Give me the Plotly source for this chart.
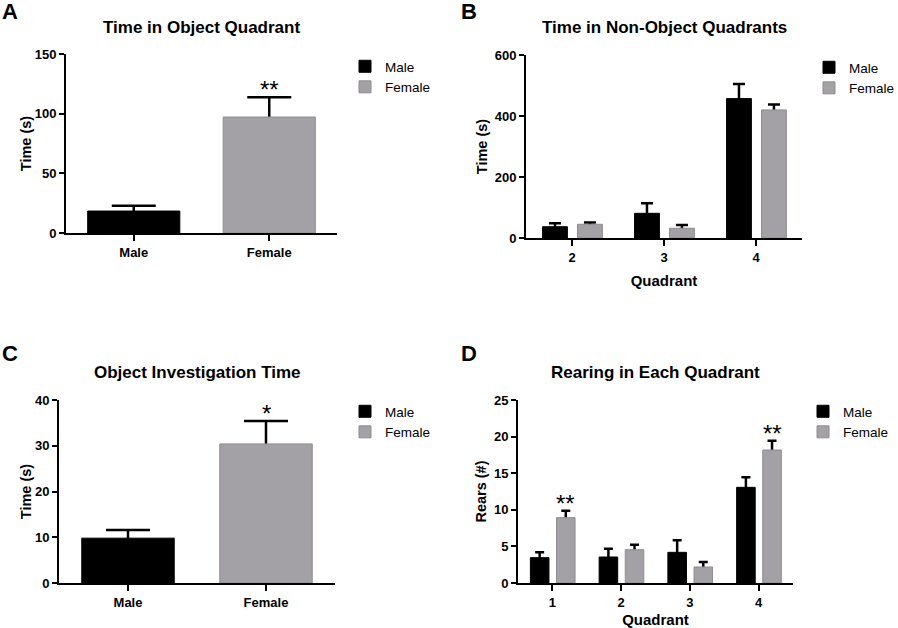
import plotly.graph_objects as go

# ---------------- data ----------------
sexes = ["Male", "Female"]

# Panel A: Time in Object Quadrant
a_cats = ["Male", "Female"]
a_mean = [18.4, 97.2]
a_sem = [4.5, 16.5]
a_stars = ["", "**"]

# Panel B: Time in Non-Object Quadrants
b_cats = ["2", "3", "4"]
b_male = [37, 81, 457]
b_male_sem = [11, 33, 48]
b_female = [45, 32, 420]
b_female_sem = [6, 11, 18]

# Panel C: Object Investigation Time
c_cats = ["Male", "Female"]
c_mean = [9.8, 30.4]
c_sem = [1.8, 5.0]
c_stars = ["", "*"]

# Panel D: Rearing in Each Quadrant
d_cats = ["1", "2", "3", "4"]
d_male = [3.46, 3.55, 4.19, 13.07]
d_male_sem = [0.73, 1.14, 1.64, 1.37]
d_female = [8.93, 4.55, 2.19, 18.17]
d_female_sem = [0.95, 0.68, 0.68, 1.27]
d_female_stars = ["**", "", "", "**"]

# ---------------- style ----------------
W, H = 898, 628
MALE_C = "#000000"
FEM_C = "#A3A1A6"
FEM_LINE = "#8E8C91"
FAM = "Liberation Sans, Arial, sans-serif"


def px_x(v):
    return v / W


def px_y(v):
    return 1 - v / H


fig = go.Figure()


def add_bars(x, y, sem, name, legend, color, line, width, offset, cap, xa, ya):
    # error bars first (on a transparent twin), then the opaque bars on top so
    # only the upper half of each error bar shows, as in the reference
    fig.add_trace(go.Bar(x=x, y=y, showlegend=False, hoverinfo="skip",
                         marker=dict(color="rgba(0,0,0,0)", line=dict(width=0)),
                         width=width, offset=offset,
                         error_y=dict(type="data", array=sem, color="black",
                                      thickness=2.5, width=cap),
                         xaxis=xa, yaxis=ya))
    fig.add_trace(go.Bar(x=x, y=y, name=name, legend=legend,
                         marker=dict(color=color, line=dict(color=line, width=1)),
                         width=width, offset=offset, xaxis=xa, yaxis=ya))


# Panel A
add_bars([a_cats[0]], [a_mean[0]], [a_sem[0]], "Male", "legend", MALE_C, MALE_C, 0.68, -0.34, 22, "x", "y")
add_bars([a_cats[1]], [a_mean[1]], [a_sem[1]], "Female", "legend", FEM_C, FEM_LINE, 0.68, -0.34, 22, "x", "y")
# Panel B
add_bars(b_cats, b_male, b_male_sem, "Male", "legend2", MALE_C, MALE_C, 0.27, -0.32, 6, "x2", "y2")
add_bars(b_cats, b_female, b_female_sem, "Female", "legend2", FEM_C, FEM_LINE, 0.27, 0.06, 6, "x2", "y2")
# Panel C
add_bars([c_cats[0]], [c_mean[0]], [c_sem[0]], "Male", "legend3", MALE_C, MALE_C, 0.67, -0.335, 22, "x3", "y3")
add_bars([c_cats[1]], [c_mean[1]], [c_sem[1]], "Female", "legend3", FEM_C, FEM_LINE, 0.67, -0.335, 22, "x3", "y3")
# Panel D
add_bars(d_cats, d_male, d_male_sem, "Male", "legend4", MALE_C, MALE_C, 0.27, -0.32, 4.5, "x4", "y4")
add_bars(d_cats, d_female, d_female_sem, "Female", "legend4", FEM_C, FEM_LINE, 0.27, 0.06, 4.5, "x4", "y4")

# ---------------- axes ----------------
tickfont = dict(family=FAM, size=13, color="black", weight="bold")
titlefont = dict(family=FAM, size=14.5, color="black", weight="bold")


def xax(domain, cats, anchor, title=None):
    d = dict(domain=domain, anchor=anchor, type="category", categoryorder="array",
             categoryarray=cats, range=[-0.5, len(cats) - 0.5], automargin=False,
             showline=True, linecolor="black", linewidth=2, ticks="outside",
             ticklen=6, tickwidth=2, tickcolor="black", tickfont=tickfont,
             showgrid=False, zeroline=False, fixedrange=True)
    if title:
        d["title"] = dict(text=title, font=dict(family=FAM, size=15, color="black", weight="bold"),
                          standoff=12)
    return d


def yax(domain, rng, dtick, anchor, title, standoff):
    return dict(domain=domain, anchor=anchor, range=rng, dtick=dtick, tick0=0, automargin=False,
                showline=True, linecolor="black", linewidth=2, ticks="outside",
                ticklen=5, tickwidth=2, tickcolor="black", tickfont=tickfont,
                showgrid=False, zeroline=False, fixedrange=True,
                title=dict(text=title, font=titlefont, standoff=standoff))


layout = dict(
    width=W, height=H, margin=dict(l=0, r=0, t=0, b=0, autoexpand=False),
    paper_bgcolor="white", plot_bgcolor="white", barmode="overlay",
    font=dict(family=FAM, color="black"),
    xaxis=xax([px_x(66), px_x(337)], a_cats, "y"),
    yaxis=yax([px_y(233), px_y(54)], [0, 150], 50, "x", "Time (s)", 0),
    xaxis2=xax([px_x(526), px_x(802)], b_cats, "y2", "Quadrant"),
    yaxis2=yax([px_y(238), px_y(55)], [0, 600], 200, "x2", "Time (s)", 4),
    xaxis3=xax([px_x(59), px_x(335)], c_cats, "y3"),
    yaxis3=yax([px_y(583), px_y(400)], [0, 40], 10, "x3", "Time (s)", 0),
    xaxis4=xax([px_x(518), px_x(793)], d_cats, "y4", "Quadrant"),
    yaxis4=yax([px_y(583), px_y(400)], [0, 25], 5, "x4", "Rears (#)", 4),
)

legfont = dict(family=FAM, size=13.5, color="black")


def leg(x_text, y_first):
    return dict(x=px_x(x_text - 40), y=px_y(y_first - 16), xanchor="left", yanchor="top",
                font=legfont, bgcolor="rgba(0,0,0,0)", tracegroupgap=0)


layout["legend"] = leg(385, 67)
layout["legend2"] = leg(849, 68)
layout["legend3"] = leg(385, 412)
layout["legend4"] = leg(843, 412)

fig.update_layout(**layout)

# ---------------- titles / panel letters ----------------
annots = []
titles = [("Time in Object Quadrant", 201.5, 27), ("Time in Non-Object Quadrants", 664, 27),
          ("Object Investigation Time", 197, 372), ("Rearing in Each Quadrant", 655.5, 372)]
for t, x, y in titles:
    annots.append(dict(text=t, x=px_x(x), y=px_y(y), xref="paper", yref="paper",
                       xanchor="center", yanchor="middle", showarrow=False,
                       font=dict(family=FAM, size=17, color="black", weight="bold")))
letters = [("A", 0, 12), ("B", 459, 12), ("C", 0, 353), ("D", 459, 353)]
for t, x, y in letters:
    annots.append(dict(text=t, x=px_x(x), y=px_y(y), xref="paper", yref="paper",
                       xanchor="left", yanchor="middle", showarrow=False,
                       font=dict(family=FAM, size=22, color="black", weight="bold")))

# significance stars
star_font = dict(family=FAM, size=24, color="black")
for cat, m, s, st in zip(a_cats, a_mean, a_sem, a_stars):
    if st:
        annots.append(dict(text=st, x=cat, y=m + s, xref="x", yref="y", yanchor="bottom",
                           showarrow=False, yshift=-8, font=star_font))
for cat, m, s, st in zip(c_cats, c_mean, c_sem, c_stars):
    if st:
        annots.append(dict(text=st, x=cat, y=m + s, xref="x3", yref="y3", yanchor="bottom",
                           showarrow=False, yshift=-8, font=star_font))
for i, (cat, m, s, st) in enumerate(zip(d_cats, d_female, d_female_sem, d_female_stars)):
    if st:
        annots.append(dict(text=st, x=i + 0.195, y=m + s, xref="x4", yref="y4", yanchor="bottom",
                           showarrow=False, yshift=-8, font=star_font))

fig.update_layout(annotations=annots)
fig.write_html(
    "out.html",
    config={"displayModeBar": False, "staticPlot": True},
    post_script=("document.documentElement.style.margin='0';document.body.style.margin='0';"
                 "document.documentElement.style.overflow='hidden';document.body.style.overflow='hidden';"),
)
